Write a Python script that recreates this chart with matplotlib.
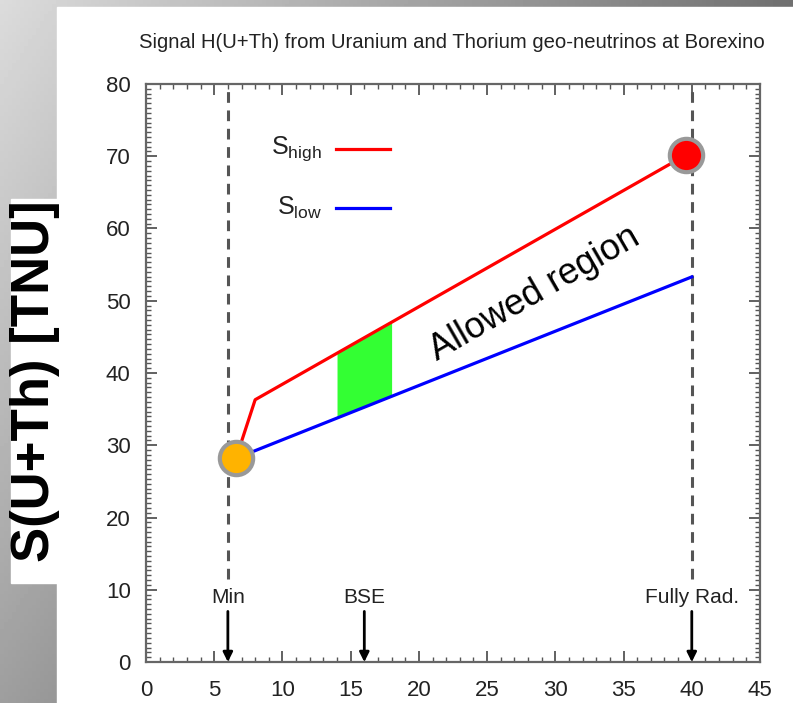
import numpy as np
import matplotlib
matplotlib.use("Agg")
import matplotlib.pyplot as plt
from matplotlib.patches import Rectangle
from matplotlib.ticker import MultipleLocator, AutoMinorLocator

plt.rcParams["font.family"] = ["Liberation Sans", "DejaVu Sans"]
plt.rcParams["mathtext.default"] = "regular"

# data
s_high_x = [6.6, 8.0, 39.6]
s_high_y = [28.2, 36.3, 70.2]
s_low_x = [6.6, 40.0]
s_low_y = [28.2, 53.3]
band_x = [14.0, 18.0]
markers = [("Min", 6.0, True), ("BSE", 16.0, False), ("Fully Rad.", 40.0, True)]
point_low = (6.6, 28.2)
point_high = (39.6, 70.2)

W, H = 793, 703
fig = plt.figure(figsize=(W / 100, H / 100), dpi=100)

# slide background gradient
bg = fig.add_axes([0, 0, 1, 1], zorder=-10)
xx, yy = np.meshgrid(np.linspace(0, 1, 200), np.linspace(0, 1, 200))
bg.imshow(0.86 - 0.42 * xx - 0.24 * yy, cmap="gray", vmin=0, vmax=1, extent=[0, 1, 1, 0], aspect="auto")
bg.set_xlim(0, 1); bg.set_ylim(1, 0); bg.set_axis_off()
bg.add_patch(Rectangle((57 / W, 7 / H), 1, 1, color="white"))
bg.add_patch(Rectangle((11 / W, 199 / H), 50 / W, 384 / H, color="white"))

fig.text(35 / W, 1 - 381 / H, "S(U+Th) [TNU]", rotation=90, ha="center", va="center",
         fontsize=38, fontweight="bold")
fig.text(452 / W, 1 - 43 / H, "Signal H(U+Th) from Uranium and Thorium geo-neutrinos at Borexino",
         ha="center", va="center", fontsize=14.6, color="#222")

ax = fig.add_axes([146 / W, 1 - 662 / H, 614 / W, 578 / H])
ax.set_xlim(0, 45); ax.set_ylim(0, 80)
ax.xaxis.set_major_locator(MultipleLocator(5)); ax.xaxis.set_minor_locator(MultipleLocator(1))
ax.yaxis.set_major_locator(MultipleLocator(10)); ax.yaxis.set_minor_locator(AutoMinorLocator(15))
ax.tick_params(which="both", direction="in", top=True, right=True, color="#555", labelsize=16,
               labelcolor="#222")
ax.tick_params(which="major", length=8, width=1.3)
ax.tick_params(which="minor", length=3.5, width=1.0)
ax.tick_params(axis="x", pad=13)
ax.tick_params(axis="y", pad=11)
for s in ax.spines.values():
    s.set_color("#666"); s.set_linewidth(1.6)

for name, x, dashed in markers:
    if dashed:
        ax.plot([x, x], [11.5, 80], color="#555", lw=2.2, ls=(0, (3.5, 2.5)), zorder=1)
    ax.text(x, 8.9, name, ha="center", va="center", fontsize=15, color="#222")
    ax.annotate("", xy=(x, 0), xytext=(x, 7.0),
                arrowprops=dict(arrowstyle="-|>", color="black", lw=2, mutation_scale=14, shrinkA=0, shrinkB=0))

low_band = np.interp(band_x, s_low_x, s_low_y)
high_band = np.interp(band_x, s_high_x, s_high_y)
ax.fill_between(band_x, low_band, high_band, color="#33ff33", lw=0, zorder=2)

ax.plot(s_high_x, s_high_y, color="red", lw=2.3, zorder=3)
ax.plot(s_low_x, s_low_y, color="blue", lw=2.3, zorder=3)
ax.plot(*point_low, "o", ms=24, mfc="#ffb300", mec="#999", mew=3, zorder=5)
ax.plot(*point_high, "o", ms=24, mfc="red", mec="#999", mew=3, zorder=5)

ax.plot([13.9, 17.9], [71.0, 71.0], color="red", lw=2.3)
ax.plot([13.9, 17.9], [62.8, 62.8], color="blue", lw=2.3)
ax.text(12.9, 71.0, "S$_{high}$", ha="right", va="center", fontsize=18, color="#222")
ax.text(12.9, 62.8, "S$_{low}$", ha="right", va="center", fontsize=18, color="#222")

ax.text(28.5, 51.0, "Allowed region", rotation=30, ha="center", va="center", fontsize=26,
        rotation_mode="anchor")

fig.savefig("out.png", dpi=100)
